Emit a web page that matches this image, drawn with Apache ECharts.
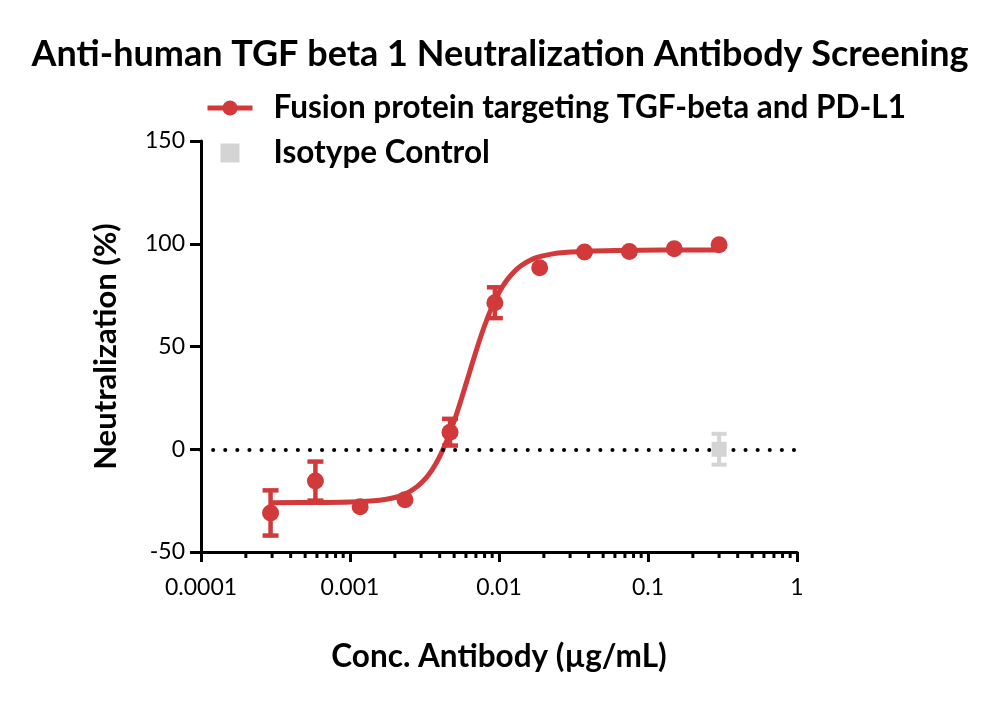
<!DOCTYPE html>
<html>
<head>
<meta charset="utf-8">
<script src="https://cdn.jsdelivr.net/npm/echarts@6/dist/echarts.min.js"></script>
<style>html,body{margin:0;padding:0;background:#fff;}#c{width:1000px;height:703px;}</style>
</head>
<body>
<div id="c"></div>
<script>
const titleText = 'Anti-human TGF beta 1 Neutralization Antibody Screening';
const fusionName = 'Fusion protein targeting TGF-beta and PD-L1';
const isotypeName = 'Isotype Control';

// measured points
const concentrations = [0.000293, 0.000586, 0.00117, 0.00234, 0.00469, 0.00938, 0.01875, 0.0375, 0.075, 0.15, 0.3];
const fusionMean = [-31, -15.5, -28, -24.6, 8.3, 71.3, 88.3, 96, 96.2, 97.6, 99.5];
const fusionErr = [11, 9.5, 0, 0, 6.5, 7.5, 0, 0, 0, 0, 0];

const isotypeConc = [0.3];
const isotypeMean = [0];
const isotypeErr = [7.5];

// fitted curve
const curveConc = [0.0003, 0.000631, 0.001, 0.001585, 0.001995, 0.002239, 0.002512, 0.002818, 0.003162, 0.003548, 0.003981, 0.004467, 0.005012, 0.005623, 0.00631, 0.007079, 0.007943, 0.008913, 0.01, 0.01122, 0.01259, 0.01413, 0.01585, 0.01778, 0.01995, 0.02512, 0.03981, 0.0631, 0.1259, 0.3];
const curveFit = [-26.0, -25.9, -25.7, -24.8, -23.5, -22.3, -20.6, -18.2, -14.8, -10.1, -3.8, 4.2, 13.9, 25.1, 36.9, 48.7, 59.5, 68.8, 76.3, 82.0, 86.3, 89.4, 91.6, 93.2, 94.2, 95.5, 96.4, 96.7, 96.9, 97.0];

// axes
const xTickLabels = ['0.0001', '0.001', '0.01', '0.1', '1'];
const yTicks = [-50, 0, 50, 100, 150];
const xMinorTicks = [];
[0.0001, 0.001, 0.01, 0.1].forEach(function (d) { for (let k = 2; k <= 9; k++) xMinorTicks.push(+(d * k).toPrecision(3)); });

const RED = '#d1393b';
const GREY = '#d4d4d4';
const FONT = 'Lato';

function errorBarRender(color, capHalf, width) {
  return function (params, api) {
    const x = api.value(0), y = api.value(1), e = api.value(2);
    if (!e) return null;
    const top = api.coord([x, y + e]);
    const bot = api.coord([x, y - e]);
    const st = { stroke: color, lineWidth: width };
    return {
      type: 'group',
      children: [
        { type: 'line', shape: { x1: top[0], y1: top[1], x2: bot[0], y2: bot[1] }, style: st },
        { type: 'line', shape: { x1: top[0] - capHalf, y1: top[1], x2: top[0] + capHalf, y2: top[1] }, style: st },
        { type: 'line', shape: { x1: bot[0] - capHalf, y1: bot[1], x2: bot[0] + capHalf, y2: bot[1] }, style: st }
      ]
    };
  };
}

const chart = echarts.init(document.getElementById('c'), null, { renderer: 'canvas' });
chart.setOption({
  animation: false,
  backgroundColor: '#fff',
  title: {
    text: titleText,
    left: 'center',
    top: 31,
    textStyle: { fontFamily: FONT, fontWeight: 'bold', fontSize: 36, color: '#000' }
  },
  legend: {
    orient: 'vertical',
    left: 205,
    top: 90,
    padding: 0,
    itemWidth: 45,
    itemHeight: 19,
    itemGap: 9,
    lineStyle: { width: 5 },
    textStyle: { fontFamily: FONT, fontWeight: 'bold', fontSize: 31.5, color: '#000', lineHeight: 36, padding: [0, 0, 0, 16] },
    data: [
      { name: fusionName },
      { name: isotypeName, icon: 'path://M0,0h10v10h-10z', itemStyle: { color: GREY } }
    ]
  },
  grid: { left: 201, right: 203, top: 141, bottom: 151, containLabel: false },
  xAxis: {
    type: 'log',
    logBase: 10,
    min: 0.0001,
    max: 1,
    axisLine: { onZero: false, lineStyle: { color: '#000', width: 3 } },
    axisTick: { length: 10, lineStyle: { color: '#000', width: 3 } },
    splitLine: { show: false },
    minorTick: { show: false },
    axisLabel: {
      margin: 24, fontFamily: FONT, fontSize: 23, color: '#000',
      formatter: function (v) { return xTickLabels[Math.round(Math.log10(v)) + 4]; }
    },
    name: 'Conc. Antibody (µg/mL)',
    nameLocation: 'middle',
    nameGap: 89,
    nameTextStyle: { fontFamily: FONT, fontWeight: 'bold', fontSize: 31.5, color: '#000' }
  },
  yAxis: {
    type: 'value',
    min: yTicks[0],
    max: yTicks[yTicks.length - 1],
    interval: 50,
    axisLine: { show: true, onZero: false, lineStyle: { color: '#000', width: 3 } },
    axisTick: { show: true, length: 11, lineStyle: { color: '#000', width: 3 } },
    splitLine: { show: false },
    axisLabel: { margin: 16, fontFamily: FONT, fontSize: 23, color: '#000' },
    name: 'Neutralization (%)',
    nameLocation: 'middle',
    nameGap: 80,
    nameTextStyle: { fontFamily: FONT, fontWeight: 'bold', fontSize: 31, color: '#000' }
  },
  series: [
    {
      name: fusionName,
      type: 'line',
      data: curveConc.map(function (c, i) { return [c, curveFit[i]]; }),
      smooth: 0.3,
      symbol: 'circle',
      symbolSize: 15,
      showSymbol: false,
      itemStyle: { color: RED },
      lineStyle: { color: RED, width: 5 },
      z: 3,
      markLine: {
        silent: true,
        symbol: 'none',
        label: { show: false },
        lineStyle: { color: '#000', width: 4, type: [0.1, 12], cap: 'round' },
        data: [{ yAxis: 0 }]
      }
    },
    {
      name: fusionName,
      type: 'scatter',
      data: concentrations.map(function (c, i) { return [c, fusionMean[i]]; }),
      symbol: 'circle',
      symbolSize: 17,
      itemStyle: { color: RED, opacity: 1 },
      z: 5
    },
    {
      name: fusionName,
      type: 'custom',
      data: concentrations.map(function (c, i) { return [c, fusionMean[i], fusionErr[i]]; }),
      renderItem: errorBarRender(RED, 8, 4.5),
      itemStyle: { color: RED },
      z: 4
    },
    {
      name: isotypeName,
      type: 'custom',
      data: isotypeConc.map(function (c, i) { return [c, isotypeMean[i], isotypeErr[i]]; }),
      renderItem: errorBarRender(GREY, 7.5, 4),
      itemStyle: { color: GREY },
      z: 4
    },
    {
      name: isotypeName,
      type: 'scatter',
      data: isotypeConc.map(function (c, i) { return [c, isotypeMean[i]]; }),
      symbol: 'rect',
      symbolSize: 15,
      itemStyle: { color: GREY, opacity: 1 },
      z: 5
    },
    {
      name: 'minorTicks',
      type: 'custom',
      silent: true,
      clip: false,
      data: xMinorTicks.map(function (v) { return [v, yTicks[0]]; }),
      renderItem: function (params, api) {
        const p = api.coord([api.value(0), api.value(1)]);
        return { type: 'line', shape: { x1: p[0], y1: p[1], x2: p[0], y2: p[1] + 6 }, style: { stroke: '#000', lineWidth: 3 } };
      },
      z: 2
    }
  ]
});
</script>
</body>
</html>
